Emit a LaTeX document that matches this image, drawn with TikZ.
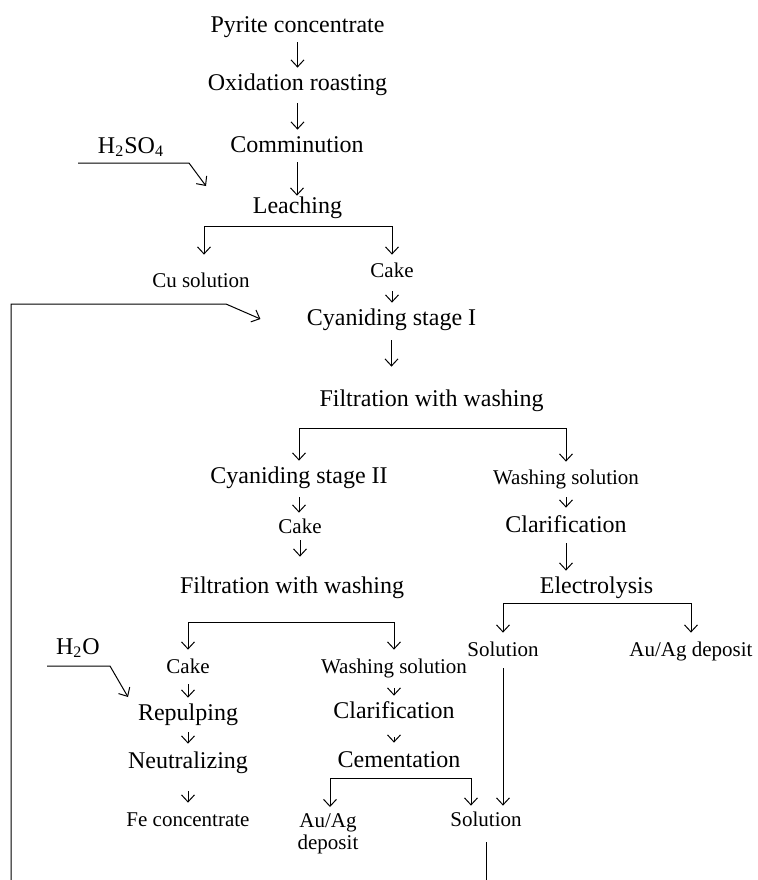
\documentclass[tikz,border=0pt]{standalone}
\usepackage{fontspec}
\setmainfont{Liberation Serif}
\usetikzlibrary{arrows.meta}
\tikzstyle{big}=[font=\fontsize{12}{14}\selectfont, inner xsep=4pt, inner ysep=3pt, text height=8pt, text depth=2pt, anchor=base]
\tikzstyle{small}=[font=\fontsize{10.5}{12}\selectfont, inner xsep=3pt, inner ysep=3pt, text height=7pt, text depth=2pt, anchor=base]
\tikzstyle{flow}=[draw, line width=0.5pt, -{Straight Barb[length=3.5pt,width=6.5pt]}]
\tikzstyle{fork}=[draw, line width=0.5pt, {Straight Barb[length=3.5pt,width=6.5pt]}-{Straight Barb[length=3.5pt,width=6.5pt]}]
\begin{document}
\begin{tikzpicture}[x=0.5pt, y=-0.5pt]
  \useasboundingbox (0,0) rectangle (758,880);

  % main stages
  \foreach \x/\y/\name/\label in {297.5/32/pyr/Pyrite concentrate, 297.5/90/oxi/Oxidation roasting,
      297/152/com/Comminution, 297.5/213/lea/Leaching, 131/153/acid/H\textsubscript{2}SO\textsubscript{4},
      391.5/325/cya/Cyaniding stage I, 431.5/406/fwa/Filtration with washing,
      299/483/cyb/Cyaniding stage II, 566/532/cla/Clarification, 596.5/593/ele/Electrolysis,
      292/593/fwb/Filtration with washing, 78/654/water/H\textsubscript{2}O,
      188/720/rep/Repulping, 188/768/neu/Neutralizing, 394/718/clb/Clarification, 399/767/cem/Cementation}
    \node[big] (\name) at (\x,\y) {\label};

  % products
  \foreach \x/\y/\name/\label in {201/287/cusol/Cu solution, 392/277/cakea/Cake, 566/484/wsa/Washing solution,
      300/533/cakeb/Cake, 503/656/sola/Solution, 691/656/aua/{Au/Ag deposit},
      188/673/cakec/Cake, 188/826/fec/Fe concentrate, 394/673/wsb/Washing solution, 486/826/solb/Solution}
    \node[small] (\name) at (\x,\y) {\label};
  \node[font=\fontsize{10.5}{11}\selectfont, inner sep=3pt, align=center, anchor=north] (aub) at (328,807) {Au/Ag\\deposit};

  % straight arrows
  \foreach \source/\dest/\sa/\sb in {pyr/oxi/0/0, oxi/com/1.5/0, com/lea/0/-2.5, cakea/cya/2/0,
      cya/fwa/2.5/8.5, cyb/cakeb/2/0, cakeb/fwb/-1.5/7, wsa/cla/1.5/1, cla/ele/0.5/0,
      cakec/rep/0.5/0, rep/neu/1/1, neu/fec/6.5/1.5, wsb/clb/2.5/0, clb/cem/4.5/1, sola/solb/1/0}
    \draw[flow, shorten <=\sa pt, shorten >=\sb pt] (\source.south) -- (\source.south |- \dest.north);

  % splits
  \draw[fork, shorten <=6pt, shorten >=1pt] ([xshift=1.5pt]cusol.north) |- ([yshift=-1.5pt]lea.south) -| (cakea.north);
  \draw[fork, shorten >=1pt] (cyb.north) |- ([yshift=-6pt]fwa.south) -| (wsa.north);
  \draw[fork, shorten <=1.5pt, shorten >=1.5pt] (sola.north) |- (ele.south) -| (aua.north);
  \draw[fork, shorten <=1.5pt, shorten >=1.5pt] (cakec.north) |- ([yshift=-9.5pt]fwb.south) -| (wsb.north);
  \draw[fork] ([xshift=1pt]aub.north) |- ([yshift=-0.75pt]cem.south) -| ([xshift=-7.5pt]solb.north);

  % feeds
  \coordinate (acidA) at (78,163);
  \coordinate (acidB) at (189,163);
  \coordinate (acidC) at (206,186);
  \draw[flow] (acidA) -- (acidB) -- (acidC);
  \coordinate (waterA) at (47,666);
  \coordinate (waterB) at (110,666);
  \coordinate (waterC) at (128,697);
  \draw[flow] (waterA) -- (waterB) -- (waterC);

  % return of solution
  \coordinate (retA) at (487,880);
  \coordinate (retB) at (11,880);
  \coordinate (retC) at (226,304);
  \draw[line width=0.5pt, shorten <=3pt] (solb.south) -- (solb.south |- retA);
  \draw[flow] (retB) |- (retC) -- ([xshift=-19pt]cya.west);
\end{tikzpicture}
\end{document}
